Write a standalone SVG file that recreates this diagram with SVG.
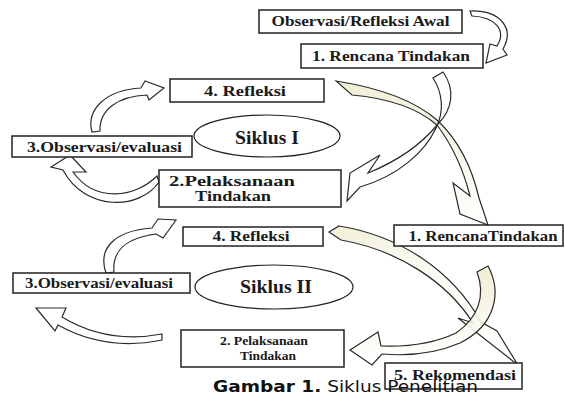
<svg xmlns="http://www.w3.org/2000/svg" width="565" height="407" viewBox="0 0 565 407">
<defs>
<style>
.box{fill:#fff;stroke:#222;stroke-width:1.5}
.ell{fill:#fff;stroke:#222;stroke-width:1.2}
.t{font-family:"Liberation Serif","Times New Roman",serif;font-weight:bold;font-size:14px;fill:#1a1a1a;text-anchor:middle}
.sm{font-size:13px}
.big{font-size:18px}
.arr{fill:#fff;stroke:#2a2a2a;stroke-width:1.2;stroke-linejoin:miter}
.yel{stroke:#2a2a2a;stroke-width:1.2}
.cap{font-family:"DejaVu Sans",Verdana,sans-serif;font-size:16px;fill:#111}
</style>
<linearGradient id="gB" x1="0" y1="0" x2="1" y2="1">
<stop offset="0" stop-color="#f1efd6"/><stop offset="0.5" stop-color="#f6f5e6"/><stop offset="1" stop-color="#fff"/>
</linearGradient>
<linearGradient id="gD" x1="0" y1="0" x2="1" y2="1">
<stop offset="0" stop-color="#f1efd6"/><stop offset="0.35" stop-color="#fafaf0"/><stop offset="1" stop-color="#fff"/>
</linearGradient>
<linearGradient id="gE" x1="0" y1="0" x2="0" y2="1">
<stop offset="0" stop-color="#eeecd0"/><stop offset="0.5" stop-color="#f8f7ea"/><stop offset="1" stop-color="#fff"/>
</linearGradient>
</defs>
<rect width="565" height="407" fill="#fff"/>

<g id="connectors">
<path class="arr" d="M470,11 C500,10 515,28 503,49 L507,55 L486,63 L490,44 L497,46 C507,30 495,17 472,16 Z"/>
<path class="yel" fill="url(#gB)" d="M336,81 C380,88 415,100 438,121 C458,140 472,168 479,198 L488,225 L460,214 L453,183 L470,196 C463,168 452,145 437,125 C415,106 385,98 352,95 Z"/>
<path class="arr" fill-opacity="0" d="M443,72 C456,90 452,110 438,124 C425,140 405,158 368,173 L380,155 L350,173 L347,201 L360,187 C398,176 425,152 436,128 C445,110 442,92 433,78 Z"/>
<path class="arr" d="M92,132 C86,110 105,90 141,88 L145,81 L164,88 L149,100 L147,95 C118,96 99,110 100,131 Z"/>
<path class="arr" d="M159,182 C140,210 85,212 63,170 L51,167 L70,155 L86,172 L73,172 C95,203 135,198 157,176 Z"/>
<path class="arr" d="M106,273 C98,250 112,231 152,228 L158,219 L176,220 L163,238 L156,234 C125,238 112,252 114,272 Z"/>
<path class="arr" d="M162,334 C130,340 95,337 62,317 L66,308 L36,308 L55,331 L58,325 C92,344 128,347 162,340 Z"/>
<path class="yel" fill="url(#gD)" d="M329,232 L339,226 C400,236 452,270 481,322 L497,331 L518,365 L458,318 L473,323 C447,282 398,250 341,240 Z"/>
<path class="yel" fill="url(#gE)" fill-opacity="0.9" d="M488,266 C502,292 496,325 460,343 C432,355 405,356 382,354 L372,365 L350,350 L378,332 L381,346 C408,347 435,343 456,333 C478,318 486,296 477,272 Z"/>
</g>

<g id="awal"><rect class="box" x="259" y="10" width="203" height="23"/><text class="t" x="360.5" y="26" textLength="178" lengthAdjust="spacingAndGlyphs">Observasi/Refleksi Awal</text></g>
<g id="rencana1"><rect class="box" x="301" y="44" width="182" height="24"/><text class="t" x="391" y="61" textLength="158" lengthAdjust="spacingAndGlyphs">1. Rencana Tindakan</text></g>
<g id="refleksi1"><rect class="box" x="170" y="79" width="154" height="23"/><text class="t" x="245" y="96" textLength="82" lengthAdjust="spacingAndGlyphs">4. Refleksi</text></g>
<g id="siklus1"><ellipse class="ell" cx="267" cy="136" rx="73" ry="21"/><text class="t big" x="267" y="144" textLength="64" lengthAdjust="spacingAndGlyphs">Siklus I</text></g>
<g id="observasi1"><rect class="box" x="12" y="136" width="180" height="21"/><text class="t" x="104.5" y="152" textLength="155" lengthAdjust="spacingAndGlyphs">3.Observasi/evaluasi</text></g>
<g id="pelaksanaan1"><rect class="box" x="159" y="170" width="182" height="37"/><text class="t" x="232" y="186" textLength="126" lengthAdjust="spacingAndGlyphs">2.Pelaksanaan</text><text class="t" x="233" y="201" textLength="76" lengthAdjust="spacingAndGlyphs">Tindakan</text></g>
<g id="rencana2"><rect class="box" x="394" y="225" width="169" height="21"/><text class="t" x="483" y="241" textLength="149" lengthAdjust="spacingAndGlyphs">1. RencanaTindakan</text></g>
<g id="refleksi2"><rect class="box" x="183" y="227" width="140" height="19"/><text class="t" x="251" y="241" textLength="77" lengthAdjust="spacingAndGlyphs">4. Refleksi</text></g>
<g id="observasi2"><rect class="box" x="13" y="273" width="177" height="20"/><text class="t" x="99" y="288" textLength="148" lengthAdjust="spacingAndGlyphs">3.Observasi/evaluasi</text></g>
<g id="siklus2"><ellipse class="ell" cx="274" cy="287" rx="79" ry="22"/><text class="t big" x="276" y="293" textLength="72" lengthAdjust="spacingAndGlyphs">Siklus II</text></g>
<g id="pelaksanaan2"><rect class="box" x="181" y="330" width="163" height="37"/><text class="t sm" x="264" y="345" textLength="88" lengthAdjust="spacingAndGlyphs">2. Pelaksanaan</text><text class="t sm" x="268" y="360" textLength="56" lengthAdjust="spacingAndGlyphs">Tindakan</text></g>
<g id="rekomendasi"><rect class="box" x="385" y="363" width="137" height="26"/><text class="t" x="455" y="380" textLength="122" lengthAdjust="spacingAndGlyphs">5. Rekomendasi</text></g>

<text class="cap" x="213" y="392" textLength="265" lengthAdjust="spacingAndGlyphs"><tspan font-weight="bold">Gambar 1.</tspan> Siklus Penelitian</text>
</svg>
